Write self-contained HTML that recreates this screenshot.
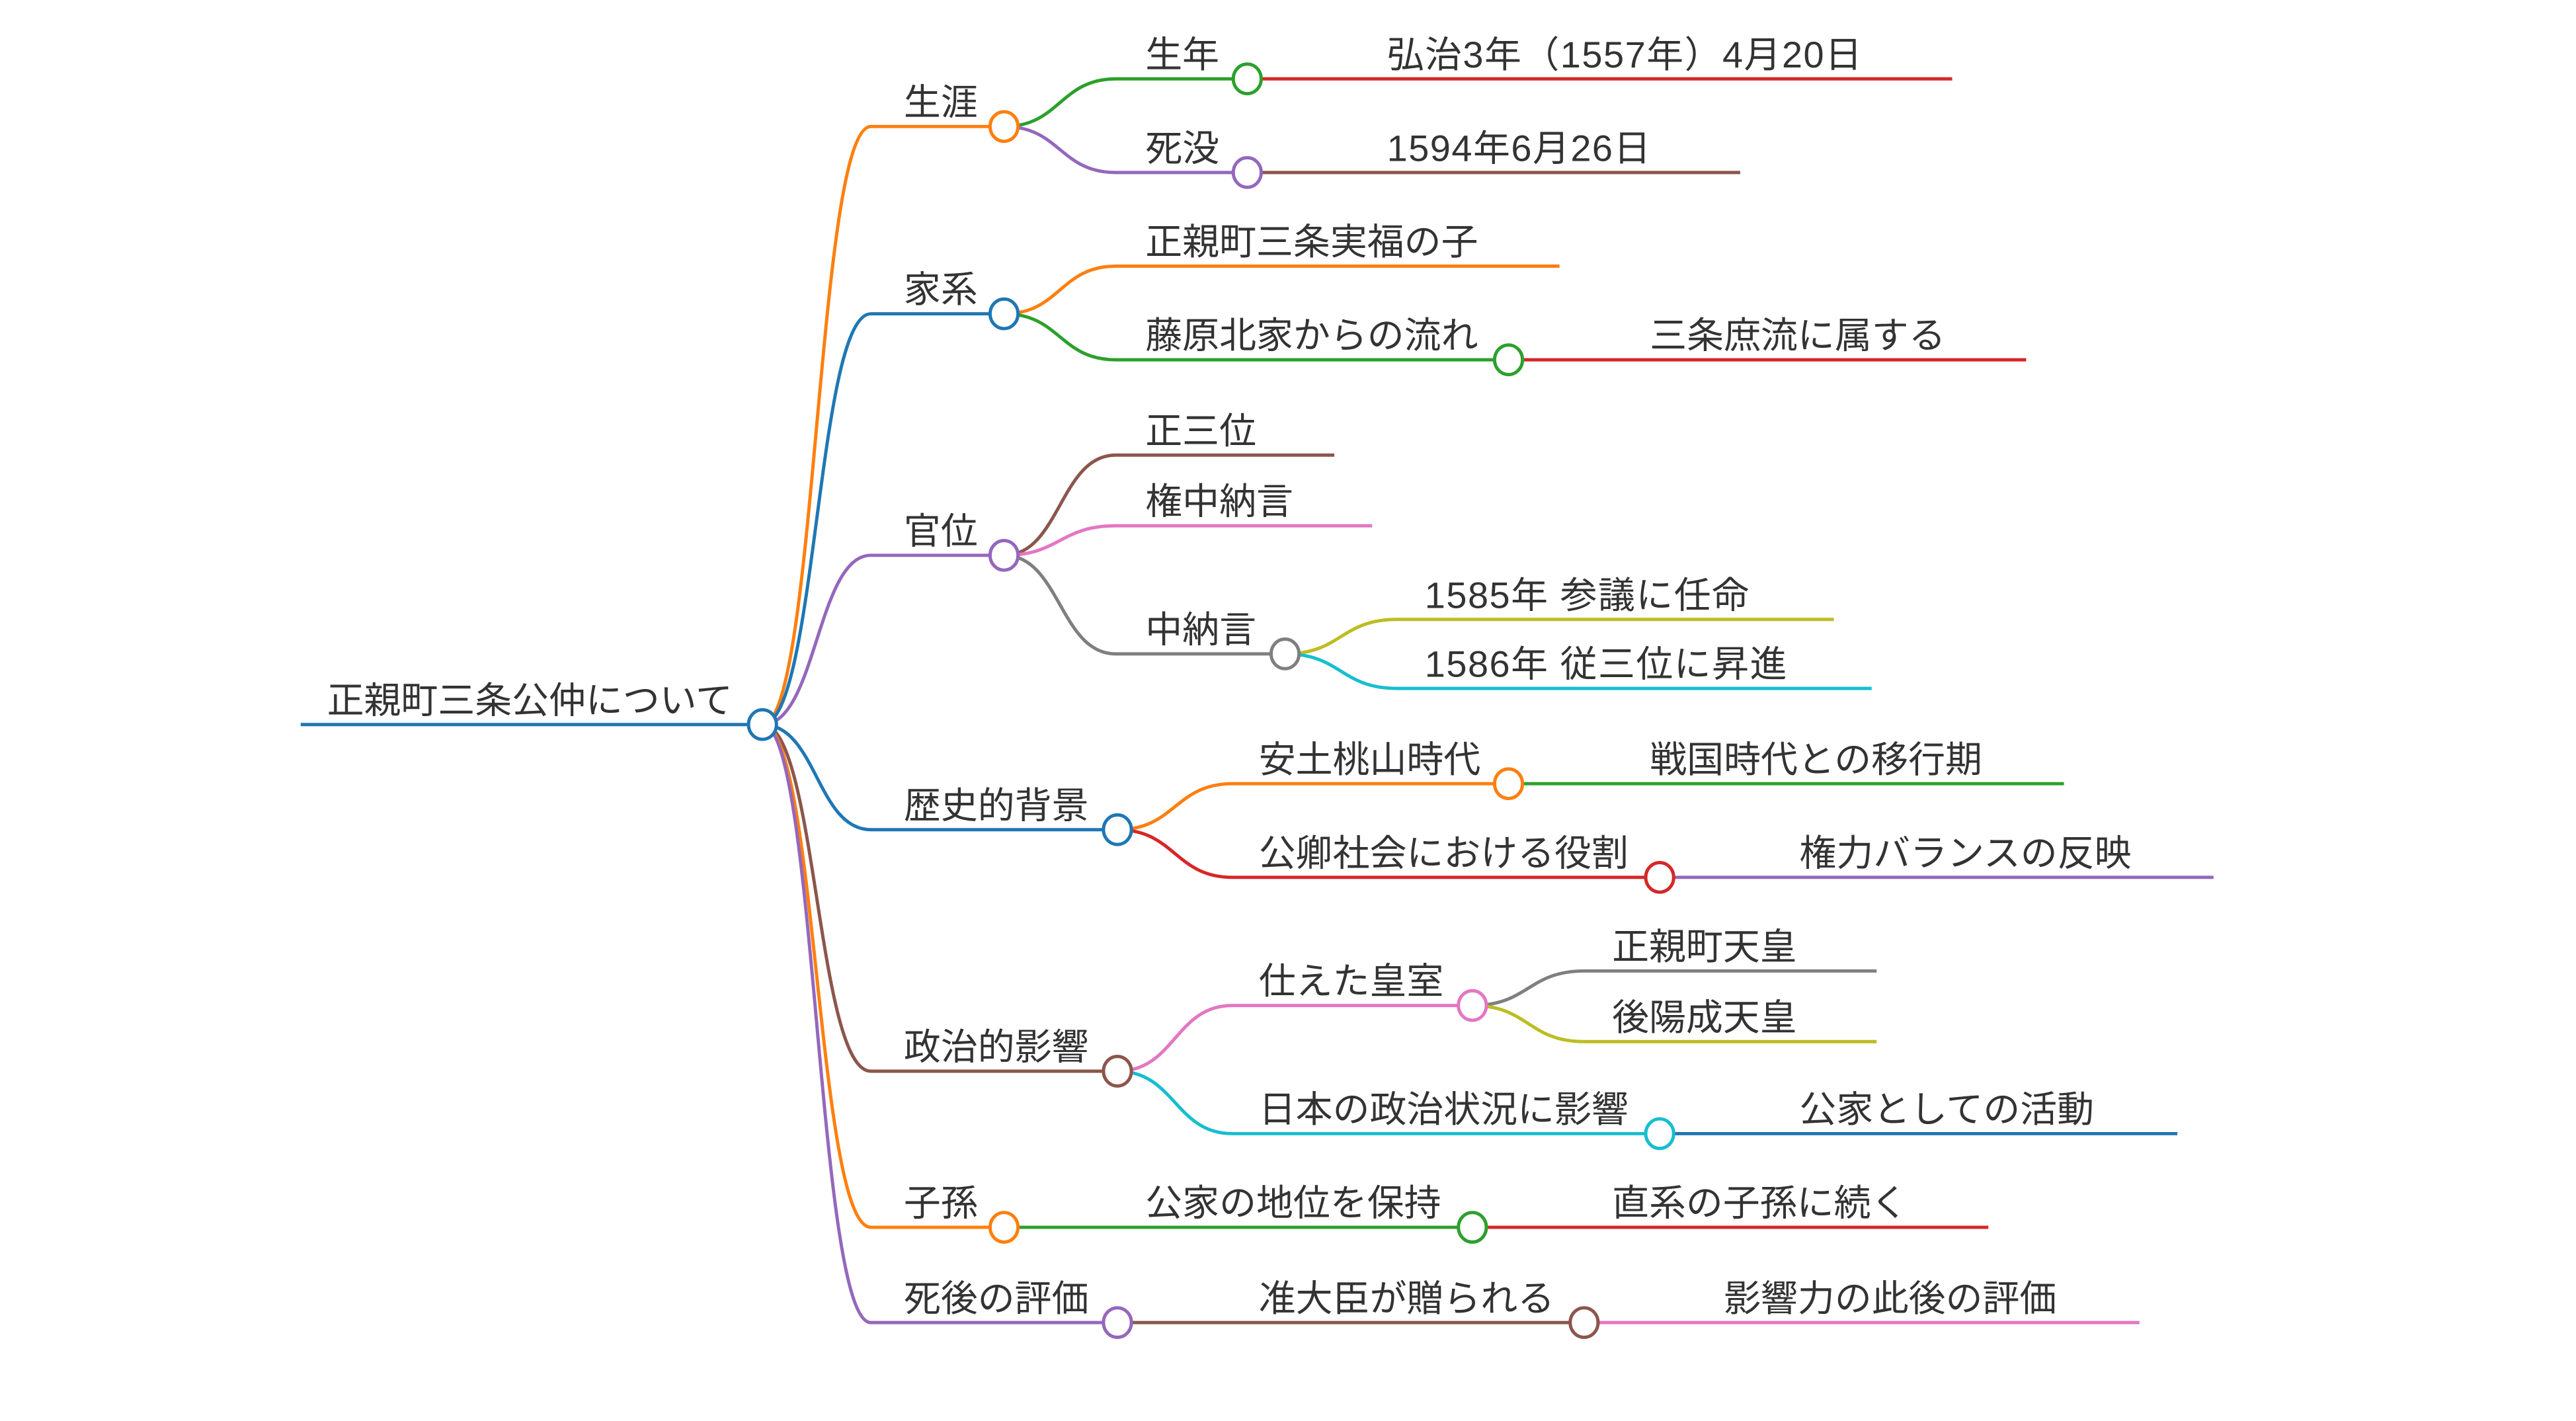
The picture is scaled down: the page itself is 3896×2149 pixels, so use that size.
<!DOCTYPE html>
<html><head><meta charset="utf-8"><style>
html,body{margin:0;padding:0;background:#fff;}
svg{display:block;}
text{font-family:"Liberation Sans","Noto Sans CJK JP",sans-serif;font-size:22.5px;fill:#333;}
text.n{letter-spacing:0.6px;}
</style></head><body>
<svg width="3896" height="2149" viewBox="0 0 1567.6 864.9" preserveAspectRatio="none" xmlns="http://www.w3.org/2000/svg">
<g fill="none" stroke-width="2">
<path d="M183 441 L464 441" stroke="#1f77b4"/>
<path d="M464 441 C497 441 497 77 530 77 L611 77" stroke="#ff7f0e"/>
<path d="M464 441 C497 441 497 191 530 191 L611 191" stroke="#1f77b4"/>
<path d="M464 441 C497 441 497 338 530 338 L611 338" stroke="#9467bd"/>
<path d="M464 441 C497 441 497 505 530 505 L680 505" stroke="#1f77b4"/>
<path d="M464 441 C497 441 497 652 530 652 L680 652" stroke="#8c564b"/>
<path d="M464 441 C497 441 497 747 530 747 L611 747" stroke="#ff7f0e"/>
<path d="M464 441 C497 441 497 805 530 805 L680 805" stroke="#9467bd"/>
<path d="M611 77 C645 77 645 48 679 48 L759 48" stroke="#2ca02c"/>
<path d="M759 48 L1188 48" stroke="#d62728"/>
<path d="M611 77 C645 77 645 105 679 105 L759 105" stroke="#9467bd"/>
<path d="M759 105 L1059 105" stroke="#8c564b"/>
<path d="M611 191 C645 191 645 162 679 162 L949 162" stroke="#ff7f0e"/>
<path d="M611 191 C645 191 645 219 679 219 L918 219" stroke="#2ca02c"/>
<path d="M918 219 L1233 219" stroke="#d62728"/>
<path d="M611 338 C645 338 645 277 679 277 L812 277" stroke="#8c564b"/>
<path d="M611 338 C645 338 645 320 679 320 L835 320" stroke="#e377c2"/>
<path d="M611 338 C645 338 645 398 679 398 L782 398" stroke="#7f7f7f"/>
<path d="M782 398 C816 398 816 377 850 377 L1116 377" stroke="#bcbd22"/>
<path d="M782 398 C816 398 816 419 850 419 L1139 419" stroke="#17becf"/>
<path d="M680 505 C715 505 715 477 750 477 L918 477" stroke="#ff7f0e"/>
<path d="M918 477 L1256 477" stroke="#2ca02c"/>
<path d="M680 505 C715 505 715 534 750 534 L1010 534" stroke="#d62728"/>
<path d="M1010 534 L1347 534" stroke="#9467bd"/>
<path d="M680 652 C715 652 715 612 750 612 L896 612" stroke="#e377c2"/>
<path d="M896 612 C930 612 930 591 964 591 L1142 591" stroke="#7f7f7f"/>
<path d="M896 612 C930 612 930 634 964 634 L1142 634" stroke="#bcbd22"/>
<path d="M680 652 C715 652 715 690 750 690 L1010 690" stroke="#17becf"/>
<path d="M1010 690 L1325 690" stroke="#1f77b4"/>
<path d="M611 747 L896 747" stroke="#2ca02c"/>
<path d="M896 747 L1210 747" stroke="#d62728"/>
<path d="M680 805 L964 805" stroke="#8c564b"/>
<path d="M964 805 L1302 805" stroke="#e377c2"/>
</g>
<g fill="#fff" stroke-width="2">
<ellipse cx="464" cy="441" rx="8.5" ry="9" stroke="#1f77b4"/>
<ellipse cx="611" cy="77" rx="8.5" ry="9" stroke="#ff7f0e"/>
<ellipse cx="611" cy="191" rx="8.5" ry="9" stroke="#1f77b4"/>
<ellipse cx="611" cy="338" rx="8.5" ry="9" stroke="#9467bd"/>
<ellipse cx="680" cy="505" rx="8.5" ry="9" stroke="#1f77b4"/>
<ellipse cx="680" cy="652" rx="8.5" ry="9" stroke="#8c564b"/>
<ellipse cx="611" cy="747" rx="8.5" ry="9" stroke="#ff7f0e"/>
<ellipse cx="680" cy="805" rx="8.5" ry="9" stroke="#9467bd"/>
<ellipse cx="759" cy="48" rx="8.5" ry="9" stroke="#2ca02c"/>
<ellipse cx="759" cy="105" rx="8.5" ry="9" stroke="#9467bd"/>
<ellipse cx="918" cy="219" rx="8.5" ry="9" stroke="#2ca02c"/>
<ellipse cx="782" cy="398" rx="8.5" ry="9" stroke="#7f7f7f"/>
<ellipse cx="918" cy="477" rx="8.5" ry="9" stroke="#ff7f0e"/>
<ellipse cx="1010" cy="534" rx="8.5" ry="9" stroke="#d62728"/>
<ellipse cx="896" cy="612" rx="8.5" ry="9" stroke="#e377c2"/>
<ellipse cx="1010" cy="690" rx="8.5" ry="9" stroke="#17becf"/>
<ellipse cx="896" cy="747" rx="8.5" ry="9" stroke="#2ca02c"/>
<ellipse cx="964" cy="805" rx="8.5" ry="9" stroke="#8c564b"/>
</g>
<g>
<text x="199" y="434">正親町三条公仲について</text>
<text x="550" y="70">生涯</text>
<text x="550" y="184">家系</text>
<text x="550" y="331">官位</text>
<text x="550" y="498">歴史的背景</text>
<text x="550" y="645">政治的影響</text>
<text x="550" y="740">子孫</text>
<text x="550" y="798">死後の評価</text>
<text x="697" y="41">生年</text>
<text class="n" x="844" y="41">弘治3年（1557年）4月20日</text>
<text x="697" y="98">死没</text>
<text class="n" x="844" y="98">1594年6月26日</text>
<text x="697" y="155">正親町三条実福の子</text>
<text x="697" y="212">藤原北家からの流れ</text>
<text x="1004" y="212">三条庶流に属する</text>
<text x="697" y="270">正三位</text>
<text x="697" y="313">権中納言</text>
<text x="697" y="391">中納言</text>
<text class="n" x="867" y="370">1585年 参議に任命</text>
<text class="n" x="867" y="412">1586年 従三位に昇進</text>
<text x="766" y="470">安土桃山時代</text>
<text x="1004" y="470">戦国時代との移行期</text>
<text x="766" y="527">公卿社会における役割</text>
<text x="1095" y="527">権力バランスの反映</text>
<text x="766" y="605">仕えた皇室</text>
<text x="981" y="584">正親町天皇</text>
<text x="981" y="627">後陽成天皇</text>
<text x="766" y="683">日本の政治状況に影響</text>
<text x="1095" y="683">公家としての活動</text>
<text x="697" y="740">公家の地位を保持</text>
<text x="981" y="740">直系の子孫に続く</text>
<text x="766" y="798">准大臣が贈られる</text>
<text x="1049" y="798">影響力の此後の評価</text>
</g>
</svg>
</body></html>
